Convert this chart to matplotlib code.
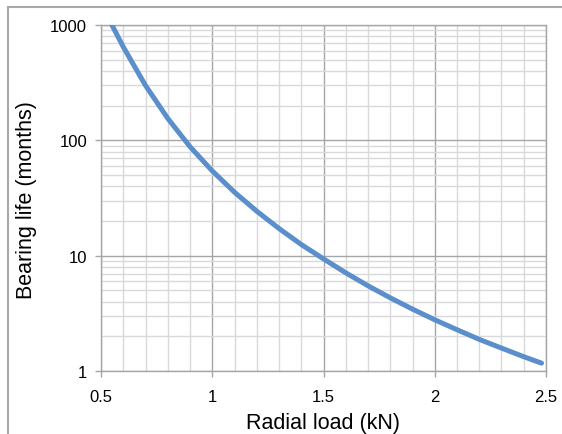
import matplotlib
matplotlib.use('Agg')
import matplotlib.pyplot as plt
from matplotlib.patches import Rectangle
from matplotlib.ticker import FixedLocator, NullFormatter

# Hodnoty
radial_load = [0.549, 0.6, 0.7, 0.8, 0.9, 1.0, 1.1, 1.2, 1.3, 1.4, 1.5,
               1.6, 1.7, 1.8, 1.9, 2.0, 2.1, 2.2, 2.3, 2.4, 2.48]
bearing_life = [1000, 646, 299, 155, 88.1, 54.3, 35.5, 24.3, 17.2, 12.5, 9.38,
                7.10, 5.48, 4.31, 3.44, 2.78, 2.28, 1.88, 1.58, 1.33, 1.17]

x_ticks = [0.5, 1, 1.5, 2, 2.5]
x_tick_labels = ['0.5', '1', '1.5', '2', '2.5']
y_ticks = [1, 10, 100, 1000]
y_tick_labels = ['1', '10', '100', '1000']

plt.rcParams['font.family'] = ['Liberation Sans', 'DejaVu Sans']

fig = plt.figure(figsize=(5.62, 4.35), dpi=100)
ax = fig.add_axes([101 / 562, 1 - 372 / 435, (546 - 101) / 562, (372 - 26) / 435])

# ohraničení celého obrázku (vidět jen nahoře a vlevo)
fig.patches.append(Rectangle((8 / 562, -0.1), 1.2, 1 - 8 / 435 + 0.1,
                             transform=fig.transFigure, fill=False,
                             edgecolor='#a8a8a8', linewidth=1.5, zorder=0))

ax.set_yscale('log')
ax.set_xlim(0.5, 2.5)
ax.set_ylim(1, 1000)

ax.xaxis.set_major_locator(FixedLocator(x_ticks))
ax.set_xticklabels(x_tick_labels)
ax.xaxis.set_minor_locator(FixedLocator([0.5 + 0.1 * i for i in range(21)]))
ax.yaxis.set_major_locator(FixedLocator(y_ticks))
ax.set_yticklabels(y_tick_labels)
ax.yaxis.set_minor_locator(FixedLocator([m * 10 ** d for d in range(3) for m in range(2, 10)]))
ax.yaxis.set_minor_formatter(NullFormatter())

ax.grid(True, which='minor', color='#d9d9d9', linewidth=1.0)
ax.grid(True, which='major', color='#a6a6a6', linewidth=1.0)
ax.set_axisbelow(True)

for s in ax.spines.values():
    s.set_color('#a6a6a6')
    s.set_linewidth(1.0)

ax.tick_params(which='major', length=4, width=1, color='#a6a6a6',
               labelsize=12, labelcolor='black')
ax.tick_params(axis='y', pad=6)
ax.tick_params(axis='x', pad=9)
ax.tick_params(which='minor', length=0)

ax.plot(radial_load, bearing_life, color='#5b8fcb', linewidth=3.6,
        solid_capstyle='round', zorder=3)

ax.set_xlabel('Radial load (kN)', fontsize=15.5, va='center')
ax.set_ylabel('Bearing life (months)', fontsize=15.5, va='center')
ax.xaxis.set_label_coords(323 / 562, 1 - 424 / 435, transform=fig.transFigure)
ax.yaxis.set_label_coords(27 / 562, 1 - 200 / 435, transform=fig.transFigure)

fig.savefig('out.png', dpi=100)
